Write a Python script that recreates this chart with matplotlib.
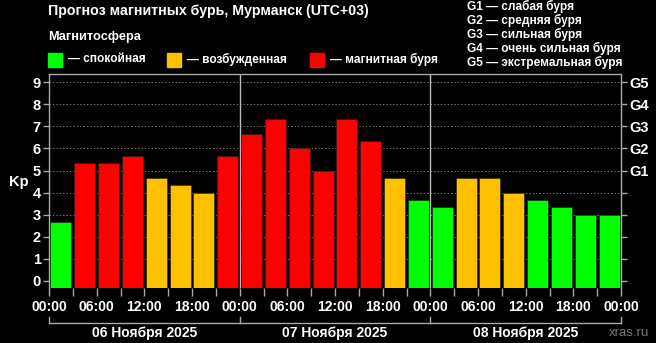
import matplotlib
matplotlib.use("Agg")
import matplotlib.pyplot as plt
from matplotlib.patches import Rectangle
from matplotlib.transforms import blended_transform_factory
import numpy as np

plt.rcParams['font.family'] = ['Liberation Sans', 'DejaVu Sans']

# ---- data ----
kp_values = [2.67, 5.33, 5.33, 5.67, 4.67, 4.33, 4.00, 5.67,
             6.67, 7.33, 6.00, 5.00, 7.33, 6.33, 4.67, 3.67,
             3.33, 4.67, 4.67, 4.00, 3.67, 3.33, 3.00, 3.00]
time_labels = ["00:00", "06:00", "12:00", "18:00"] * 3 + ["00:00"]
day_labels = ["06 Ноября 2025", "07 Ноября 2025", "08 Ноября 2025"]
g_labels = ["G1", "G2", "G3", "G4", "G5"]
g_levels = [5, 6, 7, 8, 9]
legend_labels = ["— спокойная", "— возбужденная", "— магнитная буря"]
g_desc = ["G1 — слабая буря", "G2 — средняя буря", "G3 — сильная буря",
          "G4 — очень сильная буря", "G5 — экстремальная буря"]

GREEN, ORANGE, RED = "#00ff00", "#ffc000", "#ff0000"


def color_for(v):
    if v < 4:
        return GREEN
    if v < 5:
        return ORANGE
    return RED


W, H = 656, 343
fig = plt.figure(figsize=(W / 100, H / 100), dpi=100, facecolor="black")

ax_left, ax_right, ax_top, ax_bot = 49, 621, 74, 288
ax = fig.add_axes([ax_left / W, 1 - ax_bot / H, (ax_right - ax_left) / W,
                   (ax_bot - ax_top) / H], facecolor="black")
ymin, ymax = -0.32, 9.37
ax.set_ylim(ymin, ymax)
ax.set_xlim(0, 24)

x = np.arange(len(kp_values)) + 0.5
vals = np.array(kp_values)
ax.bar(x, vals - ymin, bottom=ymin, width=0.88,
       color=[color_for(v) for v in kp_values], edgecolor="#222222",
       linewidth=0.4, zorder=3)

# grid
for yv in range(1, 10):
    ax.axhline(yv, color="#777777", lw=0.7, ls=(0, (1.5, 2)), zorder=1)
for xv in (8, 16):
    ax.axvline(xv, color="#bbbbbb", lw=1.0, zorder=2)

# spines
for s in ("left", "top", "right"):
    ax.spines[s].set_color("#aaaaaa")
    ax.spines[s].set_linewidth(1.0)
ax.spines["bottom"].set_visible(False)

ax.set_yticks(range(10))
ax.set_yticklabels([str(i) for i in range(10)], color="white",
                   fontsize=10.5, fontweight="bold")
ax.tick_params(axis="y", colors="#aaaaaa", length=4, width=1, pad=2,
               labelcolor="white")
ax.set_xticks(range(0, 25))
ax.set_xticklabels([time_labels[i // 2] if i % 2 == 0 else "" for i in range(25)],
                   color="white", fontsize=10, fontweight="bold")
ax.tick_params(axis="x", colors="#aaaaaa", length=6, width=1, pad=2.5,
               labelcolor="white")

# right axis
ax2 = ax.twinx()
ax2.set_ylim(ymin, ymax)
ax2.set_yticks(range(10))
ax2.set_yticklabels(["" if i not in g_levels else g_labels[g_levels.index(i)]
                     for i in range(10)], color="white", fontsize=10.5,
                    fontweight="bold")
ax2.tick_params(axis="y", colors="#aaaaaa", length=4, width=1, pad=2,
                labelcolor="white")
for s in ax2.spines.values():
    s.set_visible(False)

fig.text(19 / W, 1 - 182 / H, "Kp", color="white", fontsize=10.5,
         fontweight="bold", ha="center", va="center")

# day brackets
tr = blended_transform_factory(ax.transData, fig.transFigure)
yb = 1 - 323 / H
yt = 1 - 317 / H
ax.plot([0, 24], [yb, yb], color="#aaaaaa", lw=1, transform=tr, clip_on=False)
for xv in (0, 8, 16, 24):
    ax.plot([xv, xv], [yb, yt], color="#aaaaaa", lw=1, transform=tr,
            clip_on=False)
for i, lab in enumerate(day_labels):
    ax.text(8 * i + 4, 1 - 333 / H, lab, transform=tr, ha="center",
            va="center", color="white", fontsize=10, fontweight="bold")

fig.text(629 / W, 1 - 333 / H, "xras.ru", color="#777777", fontsize=9.5,
         ha="center", va="center")

# header
fig.text(48 / W, 1 - 11 / H, "Прогноз магнитных бурь, Мурманск (UTC+03)",
         color="white", fontsize=10.2, fontweight="bold", ha="left",
         va="center")
fig.text(48 / W, 1 - 37 / H, "Магнитосфера", color="white", fontsize=9.2,
         fontweight="bold", ha="left", va="center")

sq_x = [48, 167, 310]
for sx, col, lab in zip(sq_x, [GREEN, ORANGE, RED], legend_labels):
    fig.patches.append(Rectangle((sx / W, 1 - 67 / H), 14 / W, 14 / H,
                                 transform=fig.transFigure, color=col))
    fig.text((sx + 20) / W, 1 - 59 / H, lab, color="white", fontsize=8.6,
             fontweight="bold", ha="left", va="center")

for i, t in enumerate(g_desc):
    fig.text(467 / W, 1 - (6 + 14.1 * i) / H, t, color="white", fontsize=8.6,
             fontweight="bold", ha="left", va="center")

fig.savefig("out.png", dpi=100, facecolor="black")
